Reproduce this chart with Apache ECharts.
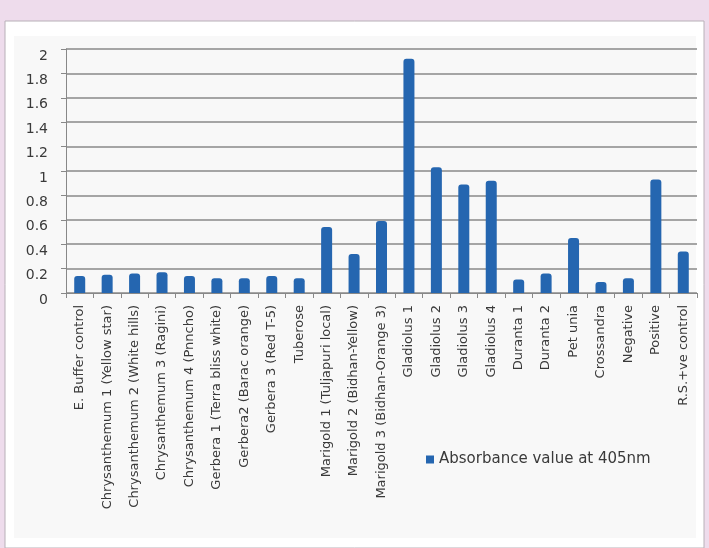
<!DOCTYPE html>
<html>
<head>
<meta charset="utf-8">
<script src="https://cdn.jsdelivr.net/npm/echarts@6/dist/echarts.min.js"></script>
<style>
  html, body { margin: 0; padding: 0; background: #eedcec; }
  #chart { width: 709px; height: 548px; }
</style>
</head>
<body>
<div id="chart"></div>
<script>
var categories = [
  'E. Buffer control', 'Chrysanthemum 1 (Yellow star)', 'Chrysanthemum 2 (White hills)',
  'Chrysanthemum 3 (Ragini)', 'Chrysanthemum 4 (Pnncho)', 'Gerbera 1 (Terra bliss white)',
  'Gerbera2 (Barac orange)', 'Gerbera 3 (Red T-5)', 'Tuberose', 'Marigold 1 (Tuljapuri local)',
  'Marigold 2 (Bidhan-Yellow)', 'Marigold 3 (Bidhan-Orange 3)', 'Gladiolus 1', 'Gladiolus 2',
  'Gladiolus 3', 'Gladiolus 4', 'Duranta 1', 'Duranta 2', 'Pet unia', 'Crossandra',
  'Negative', 'Positive', 'R.S.+ve control'
];
var absorbance = [
  0.14, 0.15, 0.16, 0.17, 0.14, 0.12, 0.12, 0.14, 0.12, 0.54,
  0.32, 0.59, 1.92, 1.03, 0.89, 0.92, 0.11, 0.16, 0.45, 0.09,
  0.12, 0.93, 0.34
];
var seriesName = 'Absorbance value at 405nm';

var chart = echarts.init(document.getElementById('chart'), null, { renderer: 'canvas' });

chart.setOption({
  animation: false,
  backgroundColor: '#eedcec',
  textStyle: { fontFamily: 'DejaVu Sans' },
  graphic: [
    {
      type: 'rect', z: -10, silent: true,
      shape: { x: 5, y: 21, width: 699, height: 527 },
      style: { fill: '#ffffff', stroke: '#b8b0b8', lineWidth: 1 }
    },
    {
      type: 'rect', z: -9, silent: true,
      shape: { x: 14, y: 36, width: 682, height: 502 },
      style: { fill: '#f8f8f8' }
    }
  ],
  legend: {
    data: [seriesName],
    left: 421,
    top: 447,
    icon: 'rect',
    itemWidth: 8,
    itemHeight: 8,
    itemGap: 6,
    textStyle: { color: '#3a3a3a', fontSize: 15, fontFamily: 'DejaVu Sans' }
  },
  grid: { left: 66, right: 12, top: 49, height: 244 },
  xAxis: {
    type: 'category',
    data: categories,
    axisLine: { lineStyle: { color: '#888' } },
    axisTick: { show: true, lineStyle: { color: '#888' }, length: 5 },
    axisLabel: { color: '#3a3a3a', fontSize: 13, rotate: 90, interval: 0, margin: 12 }
  },
  yAxis: {
    type: 'value',
    min: 0,
    max: 2,
    interval: 0.2,
    axisLine: { show: true, lineStyle: { color: '#888' } },
    axisTick: { show: true, lineStyle: { color: '#888' }, length: 5 },
    axisLabel: { color: '#3a3a3a', fontSize: 14, verticalAlign: 'top', margin: 18 },
    splitLine: { lineStyle: { color: '#8a8a8a', width: 1.5 } }
  },
  series: [
    {
      name: seriesName,
      type: 'bar',
      data: absorbance,
      barWidth: 11,
      itemStyle: { color: '#2566b0', borderRadius: [3, 3, 0, 0] }
    }
  ]
});
</script>
</body>
</html>
